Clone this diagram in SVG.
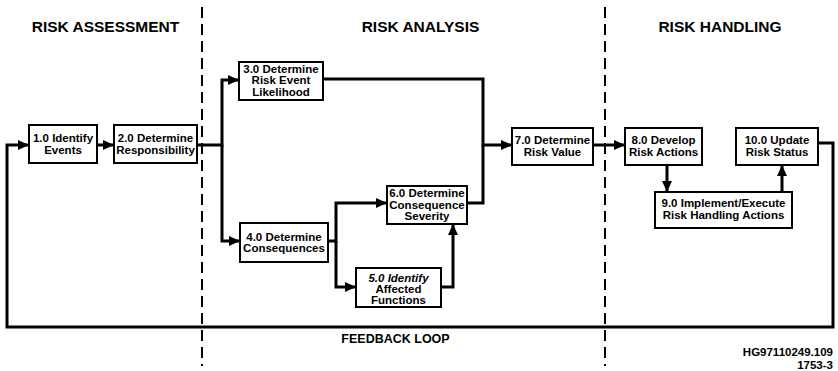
<svg xmlns="http://www.w3.org/2000/svg" width="838" height="371" viewBox="0 0 838 371">
  <style>
    .title { font-family: "Liberation Sans", Arial, sans-serif; font-weight: bold; font-size: 15.5px; fill: #000; text-anchor: middle; }
    .lbl { font-family: "Liberation Sans", Arial, sans-serif; font-weight: bold; font-size: 11.5px; fill: #000; text-anchor: middle; }
    .note { font-family: "Liberation Sans", Arial, sans-serif; font-weight: bold; font-size: 12.5px; fill: #000; }
    .ref { font-family: "Liberation Sans", Arial, sans-serif; font-weight: bold; font-size: 11.5px; fill: #000; text-anchor: end; }
    .box { fill: #fff; stroke: #000; stroke-width: 2; }
    .divider { stroke: #000; stroke-width: 2; stroke-dasharray: 11 6; fill: none; }
    .conn { fill: none; stroke: #000; stroke-width: 3; stroke-linejoin: miter; }
    .arrow { marker-end: url(#head); }
  </style>
  <defs>
    <marker id="head" markerUnits="userSpaceOnUse" markerWidth="12" markerHeight="10" refX="11" refY="5" orient="auto">
      <path d="M0,0 L11,5 L0,10 Z" fill="#000"/>
    </marker>
  </defs>

  <rect width="838" height="371" fill="#fff"/>

  <!-- phase dividers -->
  <line class="divider" x1="202" y1="7" x2="202" y2="366"/>
  <line class="divider" x1="605" y1="7" x2="605" y2="366"/>

  <!-- phase headings -->
  <text class="title" x="105.5" y="32">RISK ASSESSMENT</text>
  <text class="title" x="420.5" y="32">RISK ANALYSIS</text>
  <text class="title" x="720" y="32">RISK HANDLING</text>

  <!-- connectors -->
  <g id="connectors">
    <path class="conn arrow" d="M818 143 H833 V327 H7 V145 H29"/>
    <path class="conn arrow" d="M97 145 H114"/>
    <path class="conn arrow" d="M197 145 H222 V80 H239"/>
    <path class="conn arrow" d="M222 145 V241 H240"/>
    <path class="conn arrow" d="M323 79 H483 V145 H512"/>
    <path class="conn" d="M467 203 H483 V145"/>
    <path class="conn arrow" d="M328 241 H336 V203 H387"/>
    <path class="conn arrow" d="M336 241 V287 H356"/>
    <path class="conn arrow" d="M441 287 H453 V224"/>
    <path class="conn arrow" d="M593 145 H625"/>
    <path class="conn arrow" d="M667 165 V192"/>
    <path class="conn arrow" d="M782 192 V165"/>
  </g>

  <!-- process steps -->
  <g id="n1">
    <rect class="box" x="29" y="125" width="68" height="38"/>
    <text class="lbl" x="63" y="142">1.0 Identify</text>
    <text class="lbl" x="63" y="153.5">Events</text>
  </g>
  <g id="n2">
    <rect class="box" x="114" y="125" width="83" height="38"/>
    <text class="lbl" x="155.5" y="142">2.0 Determine</text>
    <text class="lbl" x="155.5" y="153.5">Responsibility</text>
  </g>
  <g id="n3">
    <rect class="box" x="239" y="62" width="84" height="38"/>
    <text class="lbl" x="281" y="72.5">3.0 Determine</text>
    <text class="lbl" x="281" y="84">Risk Event</text>
    <text class="lbl" x="281" y="95.5">Likelihood</text>
  </g>
  <g id="n4">
    <rect class="box" x="240" y="223" width="88" height="39"/>
    <text class="lbl" x="284" y="240.5">4.0 Determine</text>
    <text class="lbl" x="284" y="252">Consequences</text>
  </g>
  <g id="n5">
    <rect class="box" x="356" y="268" width="85" height="39"/>
    <text class="lbl" x="398.5" y="281.5" font-style="italic">5.0 Identify</text>
    <text class="lbl" x="398.5" y="292.5">Affected</text>
    <text class="lbl" x="398.5" y="303.5">Functions</text>
  </g>
  <g id="n6">
    <rect class="box" x="387" y="186" width="80" height="38"/>
    <text class="lbl" x="427" y="197">6.0 Determine</text>
    <text class="lbl" x="427" y="208.5">Consequence</text>
    <text class="lbl" x="427" y="220">Severity</text>
  </g>
  <g id="n7">
    <rect class="box" x="512" y="128" width="81" height="37"/>
    <text class="lbl" x="552.5" y="144">7.0 Determine</text>
    <text class="lbl" x="552.5" y="155.5">Risk Value</text>
  </g>
  <g id="n8">
    <rect class="box" x="625" y="128" width="77" height="37"/>
    <text class="lbl" x="663.5" y="144">8.0 Develop</text>
    <text class="lbl" x="663.5" y="155.5">Risk Actions</text>
  </g>
  <g id="n9">
    <rect class="box" x="655" y="192" width="137" height="36"/>
    <text class="lbl" x="723.5" y="207">9.0 Implement/Execute</text>
    <text class="lbl" x="723.5" y="218.5">Risk Handling Actions</text>
  </g>
  <g id="n10">
    <rect class="box" x="736" y="128" width="82" height="37"/>
    <text class="lbl" x="777" y="144">10.0 Update</text>
    <text class="lbl" x="777" y="155.5">Risk Status</text>
  </g>

  <!-- loop label and drawing number -->
  <text class="note" x="395.5" y="343" text-anchor="middle">FEEDBACK LOOP</text>
  <text class="ref" x="833" y="355.5">HG97110249.109</text>
  <text class="ref" x="833" y="369">1753-3</text>
</svg>
